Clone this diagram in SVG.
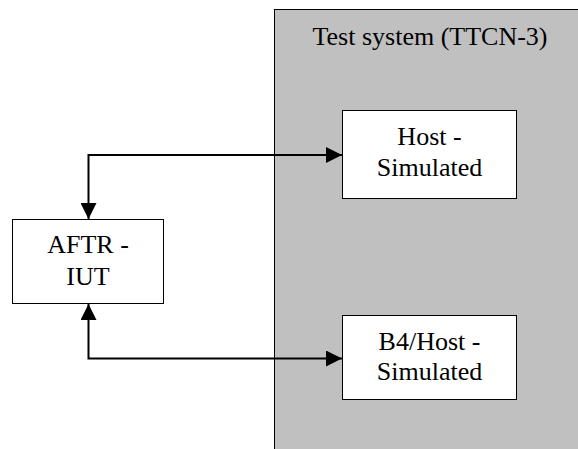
<svg xmlns="http://www.w3.org/2000/svg" width="578" height="449" viewBox="0 0 578 449">
<style>
.box{fill:#ffffff;stroke:#000000;stroke-width:1}
.sys{fill:#c0c0c0;stroke:#000000;stroke-width:1}
.t{font-family:'Liberation Serif',Tinos,'Times New Roman',Times,'Nimbus Roman','DejaVu Serif',serif;font-size:26px;fill:#000000;text-anchor:middle}
.c{fill:none;stroke:#000000;stroke-width:2}
</style>
<defs>
<marker id="ah" markerUnits="userSpaceOnUse" markerWidth="16" markerHeight="16" refX="16" refY="8" orient="auto-start-reverse">
<polygon points="0,0 16,8 0,16" fill="#000000"/>
</marker>
</defs>
<g id="test-system">
<rect class="sys" x="274.5" y="9.5" width="310" height="450"/>
<text class="t" x="430" y="45">Test system (TTCN-3)</text>
</g>
<g id="host">
<rect class="box" x="342.5" y="110.5" width="174" height="88"/>
<text class="t" x="429.5" y="145">Host -</text>
<text class="t" x="429.5" y="176">Simulated</text>
</g>
<g id="b4host">
<rect class="box" x="342.5" y="315.5" width="174" height="84"/>
<text class="t" x="429.5" y="350">B4/Host -</text>
<text class="t" x="429.5" y="380">Simulated</text>
</g>
<g id="aftr">
<rect class="box" x="12.5" y="219.5" width="151" height="84"/>
<text class="t" x="88" y="253">AFTR -</text>
<text class="t" x="88" y="285">IUT</text>
</g>
<g id="connectors">
<polyline class="c" points="88.5,219 88.5,155 342,155" marker-start="url(#ah)" marker-end="url(#ah)"/>
<polyline class="c" points="88.5,304 88.5,358.5 342,358.5" marker-start="url(#ah)" marker-end="url(#ah)"/>
</g>
</svg>
